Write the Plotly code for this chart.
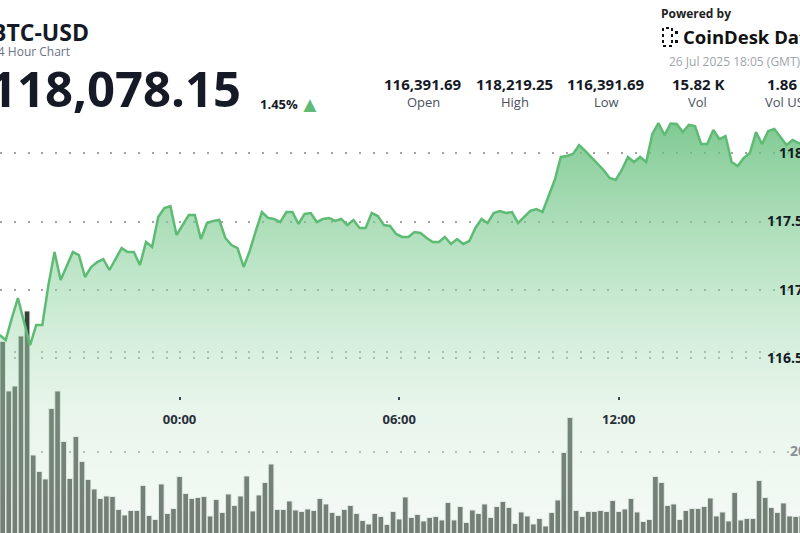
import plotly.graph_objects as go
import pandas as pd

# BTC-USD, 10 minute points (visible window of the 24h chart)
price_start = "2025-07-25 19:05"
prices = [
    116671, 116635, 116795, 116941, 116766, 116598, 116744, 116744, 117036, 117277,
    117073, 117175, 117277, 117255, 117095, 117168, 117204, 117226, 117146, 117226,
    117306, 117277, 117277, 117182, 117350, 117314, 117533, 117598, 117613, 117401,
    117474, 117547, 117547, 117372, 117489, 117504, 117511, 117380, 117328, 117306,
    117168, 117285, 117431, 117569, 117526, 117518, 117496, 117569, 117569, 117482,
    117555, 117562, 117496, 117518, 117526, 117504, 117518, 117474, 117511, 117453,
    117453, 117562, 117540, 117474, 117467, 117409, 117387, 117387, 117423, 117416,
    117380, 117350, 117350, 117387, 117336, 117372, 117336, 117358, 117453, 117518,
    117489, 117562, 117577, 117562, 117569, 117489, 117533, 117577, 117591, 117569,
    117686, 117803, 117971, 117978, 117993, 118058, 118015, 117971, 117920, 117876,
    117818, 117803, 117876, 117971, 117934, 117971, 117934, 118139, 118219, 118131,
    118215, 118212, 118153, 118205, 118197, 118066, 118066, 118168, 118102, 118124,
    117934, 117905, 117964, 118000, 118153, 118066, 118161, 118175, 118117, 118058,
    118095, 118073, 118060,
]

vol_start = "2025-07-25 19:10"
volumes = [
    420, 321, 331, 431, 481, 193, 160, 145, 286, 321,
    220, 146, 230, 180, 144, 125, 106, 111, 110, 84,
    73, 82, 82, 132, 72, 64, 135, 76, 86, 150,
    116, 106, 108, 110, 71, 104, 78, 115, 92, 111,
    151, 81, 113, 138, 175, 84, 84, 101, 83, 80,
    85, 82, 106, 95, 78, 72, 84, 92, 76, 62,
    55, 76, 70, 54, 80, 65, 109, 68, 74, 61,
    68, 70, 63, 98, 63, 90, 58, 83, 76, 95,
    68, 90, 100, 88, 56, 79, 71, 55, 66, 51,
    78, 103, 198, 268, 82, 70, 80, 80, 82, 80,
    102, 80, 85, 106, 79, 60, 64, 150, 138, 92,
    95, 64, 82, 86, 86, 90, 107, 71, 79, 61,
    118, 63, 66, 66, 142, 108, 88, 78, 97, 71,
    70, 71,
]

price_ticks = [116500, 117000, 117500, 118000]
price_tick_text = ["116.5", "117", "117.5", "118"]
vol_ticks = [200, 400]
vol_tick_text = ["200", ""]

stat_values = ["116,391.69", "118,219.25", "116,391.69", "15.82 K", "1.86 B"]
stat_labels = ["Open", "High", "Low", "Vol", "Vol USD"]
last_price = "118,078.15"
change_pct = "1.45%"

W, H = 800, 533
DARK = "#151a26"
GREEN = "#5dbb74"


def px(x, y):
    # pixel position -> paper coords
    return x / W, 1 - y / H


price_times = pd.date_range(price_start, periods=len(prices), freq="10min")
vol_times = pd.date_range(vol_start, periods=len(volumes), freq="10min")

fig = go.Figure()

fig.add_trace(go.Bar(
    x=vol_times, y=volumes, yaxis="y",
    marker=dict(color="rgb(56,64,58)", line=dict(color="rgba(235,241,236,0.9)", width=1)),
    hoverinfo="skip",
))

fig.add_trace(go.Scatter(
    x=price_times, y=prices, yaxis="y2", mode="lines",
    line=dict(color=GREEN, width=2.5),
    fill="tozeroy",
    fillgradient=dict(
        type="vertical", start=115226, stop=118250,
        colorscale=[
            [0.0, "rgba(225,240,228,0.35)"],
            [0.3, "rgba(200,232,208,0.42)"],
            [0.6, "rgba(140,210,158,0.52)"],
            [1.0, "rgba(95,188,118,0.8)"],
        ],
    ),
    hoverinfo="skip",
))

grid = dict(showgrid=True, gridcolor="rgba(140,140,140,0.8)", gridwidth=2,
            griddash="2px,11.8px", zeroline=False, showline=False)

fig.update_layout(
    width=W, height=H,
    margin=dict(l=0, r=0, t=0, b=0, autoexpand=False),
    paper_bgcolor="white", plot_bgcolor="white",
    showlegend=False, bargap=0.08,
    font=dict(family="Open Sans", color=DARK),
    xaxis=dict(
        type="date",
        range=["2025-07-25 19:05:36", "2025-07-26 16:57:06"],
        anchor="free", position=1 - 396 / H,
        showgrid=False, zeroline=False, showline=False,
        ticks="outside", ticklen=3, tickwidth=2, tickcolor="#3c414c",
        tickformat="%H:%M", dtick=6 * 3600 * 1000, tick0="2025-07-26 00:00",
        tickfont=dict(size=13, color="#2a2f3c", weight="bold"),
        ticklabelstandoff=8, layer="above traces",
    ),
    yaxis=dict(
        range=[37, 1103], side="right",
        tickvals=vol_ticks, ticktext=vol_tick_text,
        ticklabelposition="inside", ticklabelstandoff=-17,
        tickfont=dict(size=14, color="#8a8f98", weight="bold"),
        layer="above traces", **grid,
    ),
    yaxis2=dict(
        overlaying="y", side="right",
        range=[115226, 119117],
        tickvals=price_ticks, ticktext=price_tick_text,
        ticklabelposition="inside", ticklabelstandoff=-6,
        tickfont=dict(size=14, color=DARK, weight="bold"),
        layer="above traces", **grid,
    ),
)

ann = []


def text(x, y, s, size, color=DARK, bold=False, anchor="left"):
    ax, ay = px(x, y)
    ann.append(dict(
        x=ax, y=ay, xref="paper", yref="paper", text=s, showarrow=False,
        xanchor=anchor, yanchor="middle",
        font=dict(family="Open Sans", size=size, color=color,
                  weight="bold" if bold else "normal"),
    ))


# header, left
text(-11, 32, "BTC-USD", 23, bold=True)
text(-11, 52, "24 Hour Chart", 12, color="#6b7280")
text(-13, 88, last_price, 49, bold=True)
text(258, 104, change_pct, 13, bold=True)
text(297, 103, "▲", 22, color=GREEN)

# stats row
for i, (v, lab) in enumerate(zip(stat_values, stat_labels)):
    cx = 423 + 91.5 * i
    text(cx, 84, v, 15, bold=True, anchor="center")
    text(cx, 102, lab, 13, color="#4b5060", anchor="center")

# branding, right
text(659, 13, "Powered by", 12, color="#222222", bold=True)
text(681, 37, "CoinDesk Data", 18.5, color="#111111", bold=True)
text(667, 62, "26 Jul 2025 18:05 (GMT)", 12, color="#a0a4ab")

x0, y0 = px(663, 28)
x1, y1 = px(672, 46)
shapes = [dict(type="rect", xref="paper", yref="paper", x0=x0, x1=x1, y0=y1, y1=y0,
               line=dict(color="#111111", width=2, dash="dot"))]
for yy in (31, 40):
    a, b = px(675, yy)
    c, d = px(678, yy + 3)
    shapes.append(dict(type="rect", xref="paper", yref="paper", x0=a, x1=c, y0=d, y1=b,
                       fillcolor="#111111", line=dict(width=0)))

fig.update_layout(annotations=ann, shapes=shapes)

# drop the page margin so the chart sits at the window's corner
fig.write_html("out.html", config={"displayModeBar": False},
               post_script="document.body.style.margin='0';")
